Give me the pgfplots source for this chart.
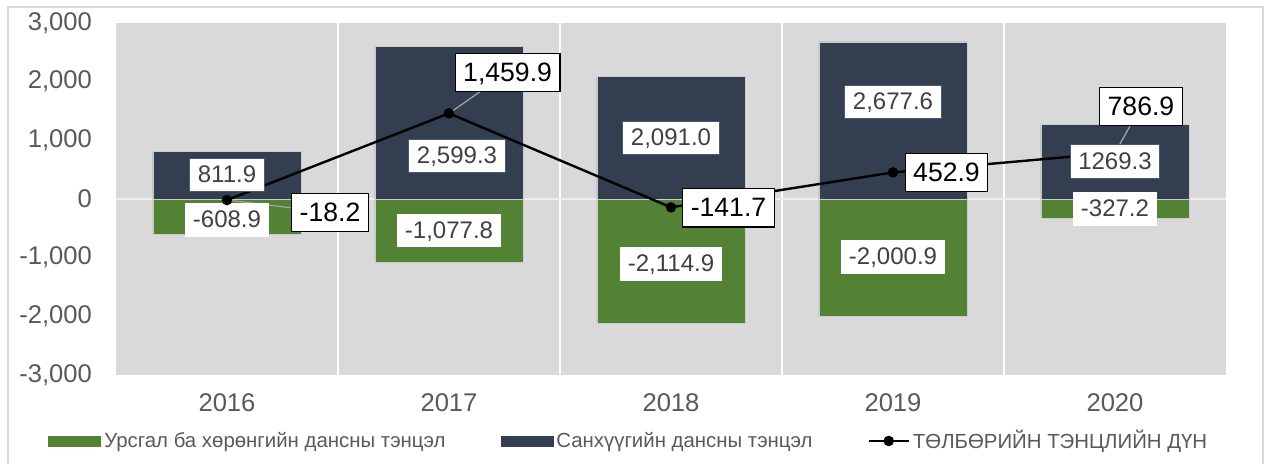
\documentclass[border=0pt]{standalone}
\usepackage{pgfplots}
\pgfplotsset{compat=1.18}
\usepackage{fontspec}
\setmainfont{Liberation Sans}
\definecolor{cgreen}{HTML}{548235}
\definecolor{cnavy}{HTML}{333F50}
\definecolor{cbg}{HTML}{D9D9D9}
\definecolor{ctick}{HTML}{595959}
\definecolor{clab}{HTML}{404040}
\definecolor{cnavyedge}{HTML}{4A5A72}
\begin{document}
\begin{tikzpicture}
\path[use as bounding box] (0,0) rectangle (632pt,232pt);
\draw[white!85!black, line width=0.6pt] (4pt,0) -- (4pt,228.5pt) -- (631.5pt,228.5pt) -- (631.5pt,0);
\begin{axis}[
  at={(58pt,44.5pt)}, anchor=south west,
  scale only axis, width=555pt, height=176pt,
  xmin=-0.5, xmax=4.5, ymin=-3000, ymax=3000,
  axis background/.style={fill=cbg},
  axis line style={draw=none},
  major tick length=0pt, minor tick length=0pt,
  xtick={0,1,2,3,4},
  xticklabels={2016,2017,2018,2019,2020},
  ytick={-3000,-2000,-1000,0,1000,2000,3000},
  yticklabels={{-3,000},{-2,000},{-1,000},0,{1,000},{2,000},{3,000}},
  ticklabel style={font=\fontsize{12.8}{15}\selectfont, text=ctick},
  yticklabel style={xshift=-8.5pt},
  xticklabel style={yshift=-6pt},
  minor xtick={0.5,1.5,2.5,3.5},
  xminorgrids, minor grid style={white, line width=1pt},
  extra y ticks={0}, extra y tick labels={},
  extra y tick style={grid=major, major grid style={color=white!93!black, line width=0.8pt}},
  bar width=0.667,
  legend columns=3,
  legend style={at={(0.4625,-0.1875)}, anchor=center, draw=none, fill=none,
    font=\fontsize{10.2}{12}\selectfont, text=ctick,
    nodes={inner sep=1.5pt},
    /tikz/every even column/.append style={column sep=26pt}},
  clip=false,
]
\addplot[ybar, bar shift=0pt, fill=cgreen, draw=white!80!black, line width=0.4pt,
  legend image code/.code={\fill[cgreen] (0pt,-2.5pt) rectangle (26pt,2.5pt);}]
  coordinates {(0,-608.9) (1,-1077.8) (2,-2114.9) (3,-2000.9) (4,-327.2)};
\addlegendentry{Урсгал ба хөрөнгийн дансны тэнцэл}
\addplot[ybar, bar shift=0pt, fill=cnavy, draw=white!80!black, line width=0.4pt,
  legend image code/.code={\fill[cnavy] (0pt,-2.5pt) rectangle (26pt,2.5pt);}]
  coordinates {(0,811.9) (1,2599.3) (2,2091.0) (3,2677.6) (4,1269.3)};
\addlegendentry{Санхүүгийн дансны тэнцэл}
% leader lines
\draw[white!65!black, line width=0.6pt] (axis cs:0,-18.2) -- (axis cs:0.464,-230);
\draw[white!65!black, line width=0.6pt] (axis cs:1,1459.9) -- (axis cs:1.264,2156);
\draw[white!65!black, line width=0.6pt] (axis cs:4,786.9) -- (axis cs:4.117,1577);
\addplot[black, line width=1.2pt, mark=*, mark size=2pt, mark indices={1,2,3,4},
  legend image code/.code={\draw[black,line width=1.2pt] (0pt,0pt) -- (20pt,0pt); \fill[black] (10pt,0pt) circle (2pt);}]
  coordinates {(0,-18.2) (1,1459.9) (2,-141.7) (3,452.9) (4,786.9)};
\addlegendentry{ТӨЛБӨРИЙН ТЭНЦЛИЙН ДҮН}
\tikzset{nl/.style={fill=white, draw=cnavyedge, line width=0.5pt, text=clab, font=\fontsize{12}{14}\selectfont, inner xsep=4pt, inner ysep=3.6pt, text height=8.7pt, text depth=1pt},
         gl/.style={fill=white, draw=none, text=clab, font=\fontsize{12}{14}\selectfont, inner xsep=4pt, inner ysep=3.6pt, text height=8.7pt, text depth=1pt},
         bl/.style={fill=white, draw=black, line width=0.7pt, text=black, font=\fontsize{13.3}{15}\selectfont, inner xsep=4pt, inner ysep=4.3pt, text height=9.6pt, text depth=1pt}}
% bar data labels
\node[nl] at (axis cs:0,409) {811.9};
\node[gl] at (axis cs:0,-358) {-608.9};
\node[nl] at (axis cs:1.036,733) {2,599.3};
\node[gl] at (axis cs:1,-537) {-1,077.8};
\node[nl] at (axis cs:2,1040) {2,091.0};
\node[gl] at (axis cs:2,-1108) {-2,114.9};
\node[nl] at (axis cs:3,1653) {2,677.6};
\node[gl] at (axis cs:3,-989) {-2,000.9};
\node[nl] at (axis cs:4,639) {1269.3};
\node[gl] at (axis cs:4,-170) {-327.2};
% line data labels
\node[bl] at (axis cs:0.464,-230) {-18.2};
\node[bl] at (axis cs:1.264,2156) {1,459.9};
\node[bl] at (axis cs:2.259,-153) {-141.7};
\node[bl] at (axis cs:3.241,452) {452.9};
\node[bl] at (axis cs:4.117,1577) {786.9};
\end{axis}
\end{tikzpicture}
\end{document}
